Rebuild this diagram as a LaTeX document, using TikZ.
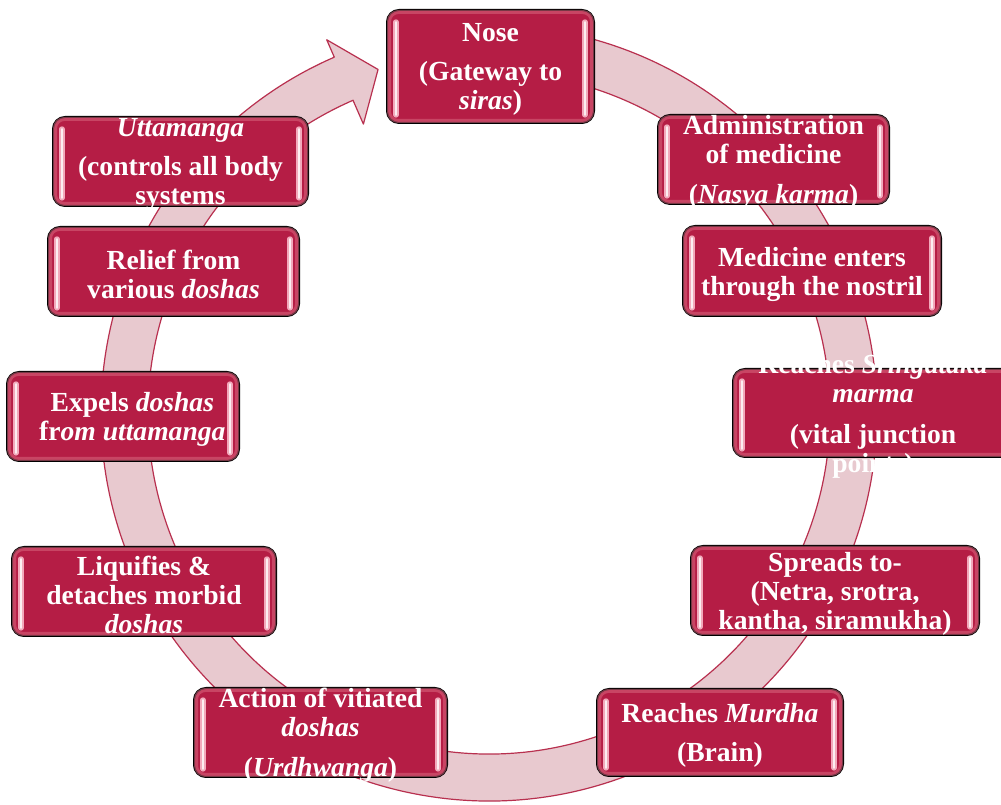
\documentclass[tikz,border=0pt]{standalone}
\usepackage{fontspec}
\setmainfont{Liberation Serif}
\usepackage{tikz}

\definecolor{crimson}{HTML}{B51D45}
\definecolor{ringfill}{HTML}{E8C9CF}
\definecolor{ringedge}{HTML}{B8304F}
\definecolor{glowpink}{HTML}{D9667F}
\definecolor{barpink}{HTML}{F2A9BB}

\begin{document}
\begin{tikzpicture}[x=0.75pt,y=0.75pt]
	\tikzstyle{cycle arrow}=[fill=ringfill, draw=ringedge, line width=0.9pt, line join=round]
	\tikzstyle{stage}=[rectangle, rounded corners=9pt, draw=black, line width=1.5pt, fill=crimson]
	\tikzstyle{glow}=[draw=glowpink, line width=3pt, rounded corners=7pt, opacity=0.55]
	\tikzstyle{shine}=[draw=barpink, line width=1.4pt, double=white!80!barpink, double distance=1.2pt, line cap=round]
	\tikzstyle{stagetext}=[text=white, inner sep=0pt, align=center, yshift=-2.25pt, font=\fontsize{20.7}{21.75}\selectfont\bfseries]

	\useasboundingbox (0,0) rectangle (1001,805);
	\clip (0,0) rectangle (1001,805);

	% the big circular arrow behind the stages
	\begin{scope}[shift={(489,392)}]
		\filldraw[cycle arrow] (80:388) arc[start angle=80, end angle=-246.5, radius=388]
			-- (-246.5:407) -- (-252.1:361) -- (-246.5:315) -- (-246.5:341)
			arc[start angle=-246.5, end angle=80, radius=341] -- cycle;
	\end{scope}

	% stages
	\node [stage, minimum width=155.25pt, minimum height=84.75pt] (nose) at (490.5,738.5) {};
	\node [stage, minimum width=173.25pt, minimum height=66.75pt] (admin) at (773.5,645.5) {};
	\node [stage, minimum width=193.5pt, minimum height=67.5pt] (enter) at (812,534) {};
	\node [stage, minimum width=210pt, minimum height=66pt] (srng) at (873,392) {};
	\node [stage, minimum width=216pt, minimum height=66.75pt] (spread) at (835,214.5) {};
	\node [stage, minimum width=184.5pt, minimum height=65.25pt] (murdha) at (720,72.5) {};
	\node [stage, minimum width=189.75pt, minimum height=66.75pt] (action) at (320.5,72.5) {};
	\node [stage, minimum width=198pt, minimum height=66.75pt] (liquify) at (144,213.5) {};
	\node [stage, minimum width=174pt, minimum height=66.75pt] (expel) at (123,388.5) {};
	\node [stage, minimum width=188.25pt, minimum height=66.75pt] (relief) at (173.5,533.5) {};
	\node [stage, minimum width=191.25pt, minimum height=66.75pt] (utta) at (180.5,643.5) {};

	\foreach \s in {nose,admin,enter,srng,spread,murdha,action,liquify,expel,relief,utta}{
		\draw[glow] ([shift={(3,-3)}]\s.north west) rectangle ([shift={(-3,3)}]\s.south east);
		\draw[shine] ([shift={(10,-13)}]\s.north west) -- ([shift={(10,9)}]\s.south west);
		\draw[shine] ([shift={(-10,-13)}]\s.north east) -- ([shift={(-10,9)}]\s.south east);
	}

	% texts
	\node [stagetext] (noseT) at (nose) {Nose\\[8pt](Gateway to\\\textit{siras})};
	\node [stagetext] (adminT) at (admin) {Administration\\of medicine\\[8pt](\textit{Nasya karma})};
	\node [stagetext] (enterT) at (enter) {Medicine enters\\through the nostril};
	\node [stagetext] (srngT) at (srng) {Reaches \textit{Sringataka}\\\textit{marma}\\[9pt](vital junction\\points)};
	\node [stagetext] (spreadT) at (spread) {Spreads to-\\(Netra, srotra,\\kantha, siramukha)};
	\node [stagetext] (murdhaT) at (murdha) {Reaches \textit{Murdha}\\[8pt](Brain)};
	\node [stagetext] (actionT) at (action) {Action of vitiated\\\textit{doshas}\\[8pt](\textit{Urdhwanga})};
	\node [stagetext] (liquifyT) at (liquify) {Liquifies \&\\detaches morbid\\\textit{doshas}};
	\node [stagetext] (expelT) at ([xshift=7]expel.center) {Expels \textit{doshas}\\fr\textit{om uttamanga}};
	\node [stagetext] (reliefT) at (relief) {Relief from\\various \textit{doshas}};
	\node [stagetext] (uttaT) at (utta) {\textit{Uttamanga}\\[8pt](controls all body\\systems};
\end{tikzpicture}
\end{document}
